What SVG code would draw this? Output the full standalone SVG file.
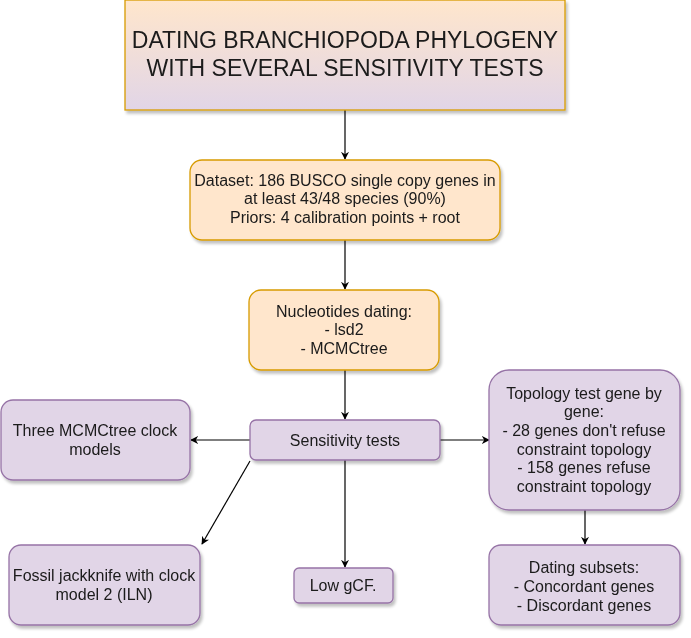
<svg xmlns="http://www.w3.org/2000/svg" width="691" height="638" viewBox="0 0 691 638">
<style>
.o{fill:#ffe6cc;stroke:#d79b00;stroke-width:1.3}
.p{fill:#e1d5e7;stroke:#9673a6;stroke-width:1.3}
text{font-family:"Liberation Sans",Arial,sans-serif;font-size:16px;fill:#1a1a1a;text-anchor:middle}
.t{font-size:23px}
.c{stroke:#000;stroke-width:1.2;fill:none;marker-end:url(#a)}
</style>
<defs>
<linearGradient id="g" x1="0" y1="0" x2="0" y2="1">
<stop offset="0" stop-color="#ffe6cc"/>
<stop offset="1" stop-color="#e1d5e7"/>
</linearGradient>
<filter id="s" x="-10%" y="-10%" width="130%" height="140%">
<feGaussianBlur in="SourceAlpha" stdDeviation="1.5"/>
<feOffset dx="2" dy="3" result="b"/>
<feComponentTransfer><feFuncA type="linear" slope="0.25"/></feComponentTransfer>
<feMerge><feMergeNode/><feMergeNode in="SourceGraphic"/></feMerge>
</filter>
<marker id="a" viewBox="0 0 10 10" refX="9" refY="5" markerWidth="8" markerHeight="8" markerUnits="userSpaceOnUse" orient="auto">
<path d="M0,0 L10,5 L0,10 L3,5 Z" fill="#000"/>
</marker>
</defs>
<g id="connectors">
<path class="c" d="M345,110 L345,159"/>
<path class="c" d="M345,240 L345,289"/>
<path class="c" d="M345,370 L345,419"/>
<path class="c" d="M250,440 L191,440"/>
<path class="c" d="M440,440 L489,440"/>
<path class="c" d="M345,460 L345,567"/>
<path class="c" d="M250,461 L202,544"/>
<path class="c" d="M585,510 L585,544"/>
</g>
<g id="title" filter="url(#s)">
<rect x="125" y="0" width="440" height="110" fill="url(#g)" stroke="#d79b00" stroke-width="1.3"/>
<text class="t" x="345" y="48">DATING BRANCHIOPODA PHYLOGENY</text>
<text class="t" x="345" y="76">WITH SEVERAL SENSITIVITY TESTS</text>
</g>
<g id="dataset" filter="url(#s)">
<rect class="o" x="190" y="160" width="310" height="80" rx="12"/>
<text x="345" y="186">Dataset: 186 BUSCO single copy genes in</text>
<text x="345" y="204">at least 43/48 species (90%)</text>
<text x="345" y="223">Priors: 4 calibration points + root</text>
</g>
<g id="nucleotides" filter="url(#s)">
<rect class="o" x="249" y="290" width="190" height="80" rx="12"/>
<text x="344" y="317">Nucleotides dating:</text>
<text x="344" y="335">- lsd2</text>
<text x="344" y="354">- MCMCtree</text>
</g>
<g id="sensitivity" filter="url(#s)">
<rect class="p" x="250" y="420" width="190" height="40" rx="6"/>
<text x="345" y="446">Sensitivity tests</text>
</g>
<g id="three" filter="url(#s)">
<rect class="p" x="1" y="400" width="189" height="80" rx="12"/>
<text x="95" y="436">Three MCMCtree clock</text>
<text x="95" y="455">models</text>
</g>
<g id="topology" filter="url(#s)">
<rect class="p" x="489" y="370" width="191" height="140" rx="20"/>
<text x="584" y="399">Topology test gene by</text>
<text x="584" y="417">gene:</text>
<text x="584" y="436">- 28 genes don't refuse</text>
<text x="584" y="455">constraint topology</text>
<text x="584" y="473">- 158 genes refuse</text>
<text x="584" y="492">constraint topology</text>
</g>
<g id="fossil" filter="url(#s)">
<rect class="p" x="9" y="545" width="191" height="80" rx="12"/>
<text x="104" y="581">Fossil jackknife with clock</text>
<text x="104" y="600">model 2 (ILN)</text>
</g>
<g id="lowgcf" filter="url(#s)">
<rect class="p" x="294" y="568" width="99" height="35" rx="5"/>
<text x="343" y="591">Low gCF.</text>
</g>
<g id="subsets" filter="url(#s)">
<rect class="p" x="489" y="545" width="191" height="80" rx="12"/>
<text x="584" y="573">Dating subsets:</text>
<text x="584" y="592">- Concordant genes</text>
<text x="584" y="611">- Discordant genes</text>
</g>
</svg>
